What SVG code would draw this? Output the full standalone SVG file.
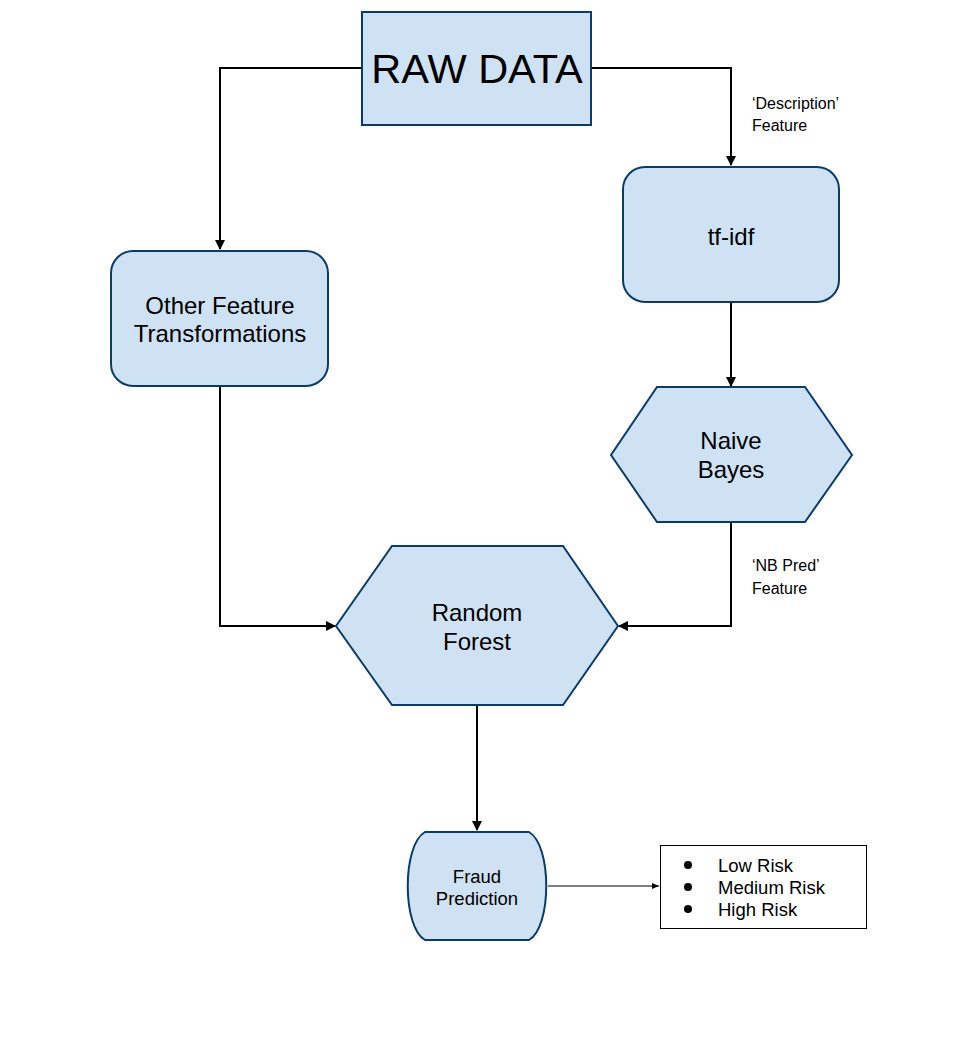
<svg xmlns="http://www.w3.org/2000/svg" width="954" height="1059" viewBox="0 0 954 1059">
<style>
.n{fill:#cfe2f3;stroke:#0b3b68;stroke-width:2}
.t{font-family:"Liberation Sans",Arial,sans-serif;fill:#000;text-anchor:middle}
.l{font-family:"Liberation Sans",Arial,sans-serif;fill:#000;font-size:16px}
.r{font-family:"Liberation Sans",Arial,sans-serif;fill:#000;font-size:18.5px}
.c{fill:none;stroke:#000;stroke-width:2}
</style>
<defs>
<marker id="a" markerWidth="10" markerHeight="10" refX="9" refY="5" orient="auto" markerUnits="userSpaceOnUse"><path d="M0,0 L10,5 L0,10 Z" fill="#000"/></marker>
<marker id="s" markerWidth="7" markerHeight="6" refX="7" refY="3" orient="auto" markerUnits="userSpaceOnUse"><path d="M0,0 L7,3 L0,6 Z" fill="#000"/></marker>
</defs>
<rect width="954" height="1059" fill="#fff"/>
<g id="connectors">
<path class="c" d="M362,68 H220 V249" marker-end="url(#a)"/>
<path class="c" d="M591,68 H731 V165" marker-end="url(#a)"/>
<path class="c" d="M731,302 V386" marker-end="url(#a)"/>
<path class="c" d="M220,386 V626 H335" marker-end="url(#a)"/>
<path class="c" d="M731,522 V626 H619" marker-end="url(#a)"/>
<path class="c" d="M477,705 V830" marker-end="url(#a)"/>
<path fill="none" stroke="#000" stroke-width="1" d="M548,886 H659" marker-end="url(#s)"/>
<text class="l" x="752" y="109">‘Description’</text>
<text class="l" x="752" y="131">Feature</text>
<text class="l" x="752" y="571">‘NB Pred’</text>
<text class="l" x="752" y="594">Feature</text>
</g>
<g id="raw">
<rect class="n" x="362" y="12" width="229" height="113"/>
<text class="t" x="477" y="83" font-size="41.5">RAW DATA</text>
</g>
<g id="tfidf">
<rect class="n" x="623" y="167" width="216" height="135" rx="22"/>
<text class="t" x="731" y="245" font-size="24">tf-idf</text>
</g>
<g id="other">
<rect class="n" x="111" y="251" width="217" height="135" rx="22"/>
<text class="t" x="220" y="314" font-size="24">Other Feature</text>
<text class="t" x="220" y="342" font-size="24">Transformations</text>
</g>
<g id="nb">
<polygon class="n" points="657,387 805,387 852,455 805,522 657,522 611,455"/>
<text class="t" x="731" y="449" font-size="24">Naive</text>
<text class="t" x="731" y="478" font-size="24">Bayes</text>
</g>
<g id="rf">
<polygon class="n" points="392,546 563,546 618,626 563,705 392,705 336,626"/>
<text class="t" x="477" y="621" font-size="24">Random</text>
<text class="t" x="477" y="650" font-size="24">Forest</text>
</g>
<g id="fraud">
<path class="n" d="M425,832 H529 C552,845 552,927 529,940 H425 C402,927 402,845 425,832 Z"/>
<text class="t" x="477" y="883" font-size="18.5">Fraud</text>
<text class="t" x="477" y="905" font-size="18.5">Prediction</text>
</g>
<g id="risk">
<rect x="660.5" y="845.5" width="206" height="83" fill="#fff" stroke="#000" stroke-width="1"/>
<circle cx="688" cy="865" r="4" fill="#000"/>
<circle cx="688" cy="887" r="4" fill="#000"/>
<circle cx="688" cy="909" r="4" fill="#000"/>
<text class="r" x="718" y="871.5">Low Risk</text>
<text class="r" x="718" y="893.5">Medium Risk</text>
<text class="r" x="718" y="915.5">High Risk</text>
</g>
</svg>
